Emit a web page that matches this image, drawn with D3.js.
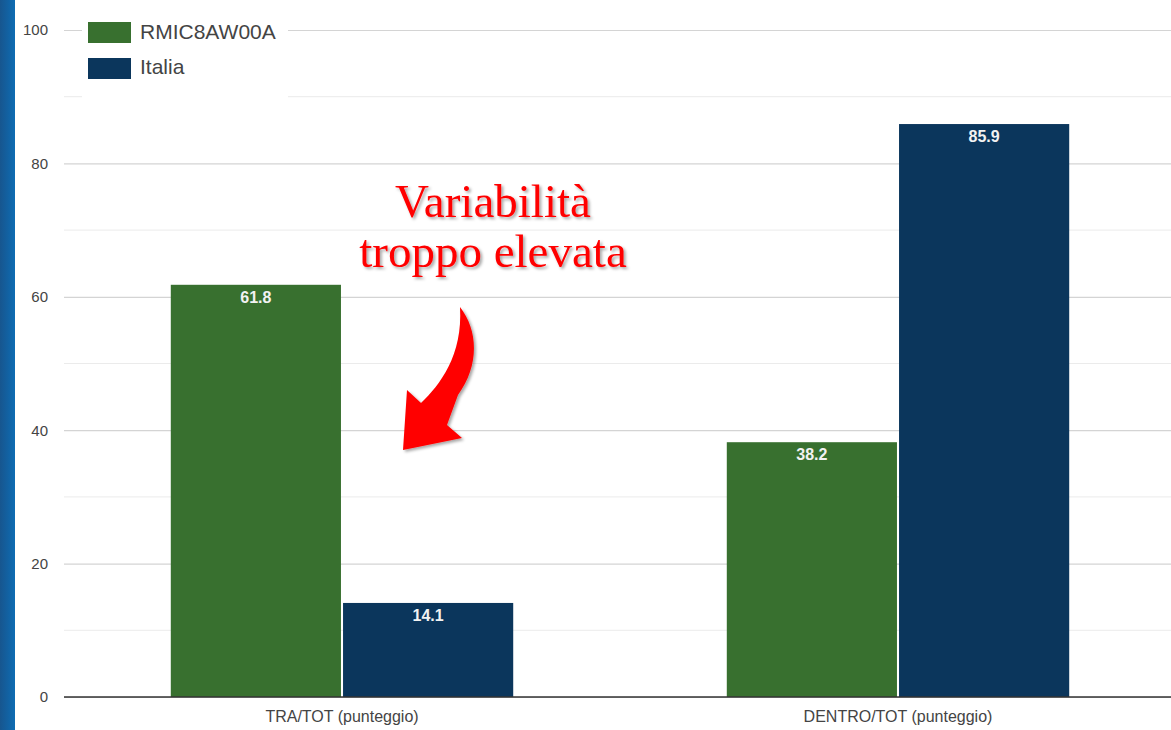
<!DOCTYPE html>
<html>
<head>
<meta charset="utf-8">
<script src="https://cdn.jsdelivr.net/npm/d3@7"></script>
<style>
  body { margin: 0; background: #fff; }
  svg { display: block; font-family: "Liberation Sans", Arial, sans-serif; }
</style>
</head>
<body>
<div id="chart"></div>
<script>
// data
var categories = ["TRA/TOT (punteggio)", "DENTRO/TOT (punteggio)"];
var seriesNames = ["RMIC8AW00A", "Italia"];
var schoolValues = [61.8, 38.2];
var italyValues = [14.1, 85.9];
var yTicks = [0, 20, 40, 60, 80, 100];
var colors = ["#38702f", "#0b365c"];

var svgWidth = 1171, svgHeight = 730;
var margin = {top: 30, bottom: 33, left: 64, right: -5};
var height = svgHeight - margin.top - margin.bottom;
var width = svgWidth - margin.left - margin.right;

var svg = d3.select("#chart").append("svg")
    .attr("width", svgWidth)
    .attr("height", svgHeight);

// blue stripe on the left edge
var defs = svg.append("defs");
var grad = defs.append("linearGradient").attr("id", "stripe");
grad.append("stop").attr("offset", "0%").attr("stop-color", "#17568f");
grad.append("stop").attr("offset", "100%").attr("stop-color", "#0e6cb3");
svg.append("rect").attr("x", 0).attr("y", 0).attr("width", 15).attr("height", svgHeight)
    .attr("fill", "url(#stripe)");

var shadow = defs.append("filter").attr("id", "shadow")
    .attr("x", "-20%").attr("y", "-20%").attr("width", "140%").attr("height", "140%");
shadow.append("feDropShadow").attr("dx", 2).attr("dy", 2).attr("stdDeviation", 1.5)
    .attr("flood-color", "#000").attr("flood-opacity", 0.35);

var chartGroup = svg.append("g")
    .attr("transform", `translate(${margin.left}, ${margin.top})`);

var yScale = d3.scaleLinear().domain([0, 100]).range([height, 0]);
var x0 = d3.scaleBand().domain(categories).range([0, width]).paddingInner(0).paddingOuter(0);
var x1 = d3.scaleBand().domain(seriesNames).range([0, x0.bandwidth()]).paddingInner(0.012).paddingOuter(0.62);

// minor gridlines
chartGroup.append("g")
    .selectAll("line")
    .data(d3.range(10, 100, 20))
    .enter().append("line")
    .attr("x1", 0).attr("x2", width)
    .attr("y1", d => yScale(d)).attr("y2", d => yScale(d))
    .attr("stroke", "#ebebeb").attr("stroke-width", 1);

// major gridlines + labels via axis
var yAxis = d3.axisLeft(yScale).tickValues(yTicks).tickSize(-width).tickPadding(16);
var yG = chartGroup.append("g").call(yAxis);
yG.select(".domain").remove();
yG.selectAll(".tick line").attr("stroke", "#d4d4d4").attr("stroke-width", 1.2);
yG.selectAll(".tick text").attr("fill", "#444").style("font-size", "15px");

// bars
var rows = categories.map((c, i) => ({cat: c, vals: [schoolValues[i], italyValues[i]]}));
var groups = chartGroup.selectAll(".grp")
    .data(rows).enter().append("g")
    .attr("transform", d => `translate(${x0(d.cat)},0)`);

var bars = groups.selectAll("rect")
    .data(d => d.vals.map((v, j) => ({name: seriesNames[j], value: v, idx: j})))
    .enter();

bars.append("rect")
    .attr("x", d => x1(d.name))
    .attr("y", d => yScale(d.value))
    .attr("width", x1.bandwidth())
    .attr("height", d => height - yScale(d.value))
    .attr("fill", d => colors[d.idx]);

bars.append("text")
    .attr("x", d => x1(d.name) + x1.bandwidth() / 2)
    .attr("y", d => yScale(d.value) + 18)
    .attr("text-anchor", "middle")
    .attr("fill", "#f2f2f2")
    .style("font-size", "16px")
    .style("font-weight", "bold")
    .text(d => d.value.toFixed(1));

// baseline
chartGroup.append("line")
    .attr("x1", 0).attr("x2", width)
    .attr("y1", yScale(0)).attr("y2", yScale(0))
    .attr("stroke", "#333").attr("stroke-width", 1.5);

// x labels
var xAxis = d3.axisBottom(x0).tickSize(0).tickPadding(14);
var xG = chartGroup.append("g").attr("transform", `translate(0, ${height})`).call(xAxis);
xG.select(".domain").remove();
xG.selectAll(".tick text").attr("fill", "#444").style("font-size", "16px");

// legend
var legend = svg.append("g");
legend.append("rect").attr("x", 82).attr("y", 12).attr("width", 206).attr("height", 88).attr("fill", "#fff");
seriesNames.forEach(function(name, i) {
    legend.append("rect")
        .attr("x", 88).attr("y", 22 + i * 36)
        .attr("width", 43).attr("height", 21)
        .attr("fill", colors[i]);
    legend.append("text")
        .attr("x", 140).attr("y", 39 + i * 35)
        .attr("fill", "#444")
        .style("font-size", "21px")
        .text(name);
});

// annotation
var note = svg.append("g").attr("filter", "url(#shadow)");
note.append("text")
    .attr("x", 493).attr("y", 217)
    .attr("text-anchor", "middle")
    .attr("fill", "#ff0000")
    .style("font-family", "'Liberation Serif', 'Times New Roman', serif")
    .style("font-size", "47px")
    .text("Variabilità");
note.append("text")
    .attr("x", 493).attr("y", 267)
    .attr("text-anchor", "middle")
    .attr("fill", "#ff0000")
    .style("font-family", "'Liberation Serif', 'Times New Roman', serif")
    .style("font-size", "47px")
    .text("troppo elevata");
note.append("path")
    .attr("d", "M460,307 C478,330 480,365 458,395 L447,425 L462,438 L403,450 L407,390 L421,403 C440,385 463,355 460,307 Z")
    .attr("fill", "#ff0000");
</script>
</body>
</html>
